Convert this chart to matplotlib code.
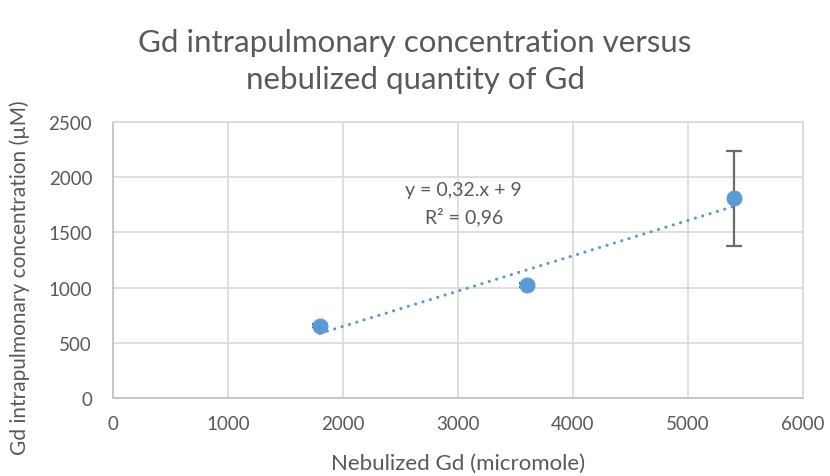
import matplotlib
matplotlib.use("Agg")
import matplotlib.pyplot as plt
import numpy as np

# ── data ───────────────────────────────────────────────────────────────────────
nebulized_gd = [1800, 3600, 5400]          # micromole
concentration = [655, 1025, 1810]          # µM
conc_err = [15, 15, 430]                   # µM

fit_slope = 0.32
fit_intercept = 9
fit_r2 = 0.96

x_ticks = [0, 1000, 2000, 3000, 4000, 5000, 6000]
y_ticks = [0, 500, 1000, 1500, 2000, 2500]

# ── style ──────────────────────────────────────────────────────────────────────
TEXT = "#595959"
GRID = "#D9D9D9"
BLUE = "#5B9BD5"
plt.rcParams["font.family"] = ["Lato", "DejaVu Sans"]

fig = plt.figure(figsize=(8.3, 4.77), dpi=100)
ax = fig.add_axes([0.1361, 0.1635, 0.8314, 0.5786])

ax.errorbar(nebulized_gd, concentration, yerr=conc_err, fmt="o",
            color=BLUE, markersize=10.5, ecolor="#6b6b6b", elinewidth=1.6,
            capsize=6, capthick=1.6, zorder=3)

# linear trendline, round dots
fit_x = np.array([nebulized_gd[0], nebulized_gd[-1]])
ax.plot(fit_x, fit_slope * fit_x + fit_intercept, color=BLUE,
        linewidth=2.3, linestyle=(0, (0.01, 2.4)), dash_capstyle="round",
        zorder=2)

ax.text(3050, 1890, "y = 0,32.x + 9", ha="center", va="center",
        fontsize=14, color=TEXT)
ax.text(3050, 1645, f"R² = {fit_r2:.2f}".replace(".", ","), ha="center",
        va="center", fontsize=14, color=TEXT)

ax.set_xlim(0, 6000)
ax.set_ylim(0, 2500)
ax.set_xticks(x_ticks)
ax.set_yticks(y_ticks)
ax.grid(True, color=GRID, linewidth=1.2)
ax.set_axisbelow(True)
for side in ("top", "right"):
    ax.spines[side].set_color(GRID)
    ax.spines[side].set_linewidth(1.2)
for side in ("left", "bottom"):
    ax.spines[side].set_color("#BFBFBF")
    ax.spines[side].set_linewidth(1.2)
ax.tick_params(length=0, labelsize=13.5, labelcolor=TEXT)
ax.tick_params(axis="x", pad=12)
ax.tick_params(axis="y", pad=15)

ax.set_xlabel("Nebulized Gd (micromole)", fontsize=16, color=TEXT, labelpad=15)
ax.set_ylabel("Gd intrapulmonary concentration (µM)", fontsize=15,
              color=TEXT)
ax.yaxis.set_label_coords(-0.12, 0.44)
fig.suptitle("Gd intrapulmonary concentration versus\nnebulized quantity of Gd",
             fontsize=22.5, color=TEXT, y=0.94, linespacing=1.42)

fig.savefig("out.png", dpi=100)
